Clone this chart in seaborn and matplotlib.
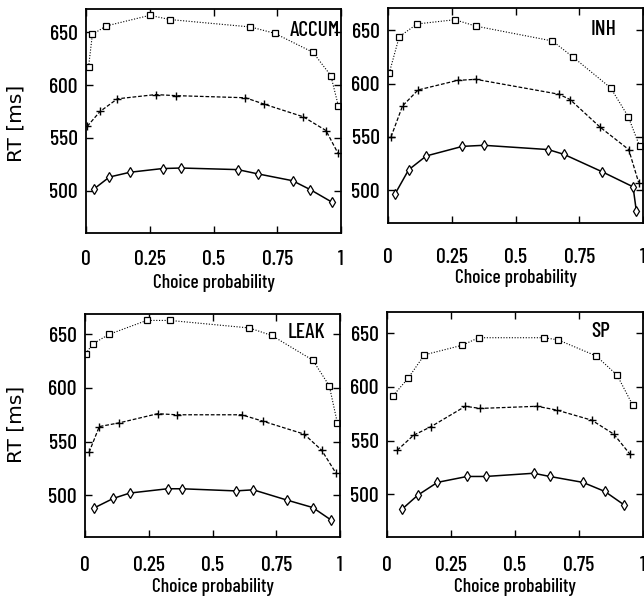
import matplotlib
matplotlib.use("Agg")
import matplotlib.pyplot as plt
import matplotlib.font_manager as fm
import pandas as pd
import seaborn as sns

# ---- data: choice probability vs. mean RT for three conditions per model ----
x_ticks = [0, 0.25, 0.5, 0.75, 1]
x_tick_labels = ["0", "0.25", "0.5", "0.75", "1"]
y_ticks = [500, 550, 600, 650]
model_names = ["ACCUM", "INH", "LEAK", "SP"]

accum_sq_p = [0.01, 0.025, 0.08, 0.25, 0.33, 0.645, 0.74, 0.89, 0.96, 0.99]
accum_sq_rt = [617, 648, 656, 666, 662, 655, 649, 631, 609, 580]
accum_pl_p = [0.005, 0.055, 0.123, 0.273, 0.353, 0.625, 0.698, 0.852, 0.941, 0.987]
accum_pl_rt = [561, 575, 587, 591, 590, 588, 582, 570, 557, 536]
accum_di_p = [0.033, 0.092, 0.173, 0.30, 0.373, 0.595, 0.673, 0.81, 0.88, 0.966]
accum_di_rt = [502, 513, 517.5, 521, 521.5, 520, 516, 509.5, 501, 489]

inh_sq_p = [0.005, 0.044, 0.114, 0.262, 0.344, 0.645, 0.725, 0.873, 0.942, 0.987]
inh_sq_rt = [610, 644, 656, 660, 654, 640, 625, 596, 569, 541]
inh_pl_p = [0.012, 0.057, 0.118, 0.273, 0.344, 0.67, 0.714, 0.832, 0.944, 0.983]
inh_pl_rt = [550, 579, 594, 603, 604, 590, 585, 559, 538, 507]
inh_di_p = [0.027, 0.081, 0.15, 0.292, 0.376, 0.628, 0.69, 0.841, 0.961, 0.974]
inh_di_rt = [496, 519, 532, 541, 542, 538, 533.5, 517, 503, 480]

leak_sq_p = [0.003, 0.03, 0.094, 0.242, 0.333, 0.644, 0.732, 0.893, 0.958, 0.99]
leak_sq_rt = [632, 641, 650, 663, 663, 656, 649, 626, 602, 567]
leak_pl_p = [0.016, 0.056, 0.135, 0.285, 0.36, 0.614, 0.698, 0.859, 0.928, 0.983]
leak_pl_rt = [540, 564, 567.5, 576, 575, 575, 569, 557, 542, 521]
leak_di_p = [0.035, 0.111, 0.176, 0.324, 0.379, 0.591, 0.66, 0.791, 0.893, 0.964]
leak_di_rt = [488, 497, 502, 506, 506, 504, 505, 495.5, 488.5, 477]

sp_sq_p = [0.024, 0.082, 0.146, 0.294, 0.358, 0.614, 0.668, 0.817, 0.899, 0.96]
sp_sq_rt = [592, 608, 630, 639, 646, 646, 644, 629, 611, 583]
sp_pl_p = [0.04, 0.104, 0.172, 0.306, 0.364, 0.586, 0.663, 0.80, 0.886, 0.95]
sp_pl_rt = [541, 555, 563, 582, 580, 582, 578.5, 569, 556, 537]
sp_di_p = [0.059, 0.12, 0.197, 0.313, 0.386, 0.573, 0.636, 0.765, 0.851, 0.926]
sp_di_rt = [486, 499, 511, 516.5, 516.5, 519.5, 516.5, 511, 502.5, 490]

panel_data = {
    "ACCUM": [(accum_sq_p, accum_sq_rt), (accum_pl_p, accum_pl_rt), (accum_di_p, accum_di_rt)],
    "INH": [(inh_sq_p, inh_sq_rt), (inh_pl_p, inh_pl_rt), (inh_di_p, inh_di_rt)],
    "LEAK": [(leak_sq_p, leak_sq_rt), (leak_pl_p, leak_pl_rt), (leak_di_p, leak_di_rt)],
    "SP": [(sp_sq_p, sp_sq_rt), (sp_pl_p, sp_pl_rt), (sp_di_p, sp_di_rt)],
}

# ---- styling ----
sns.set_theme(style="ticks")
installed = {f.name for f in fm.fontManager.ttflist}
narrow = next((n for n in ["Barlow Condensed", "Archivo Narrow", "Fira Sans Condensed"]
               if n in installed), "DejaVu Sans")
plt.rcParams["font.family"] = [narrow, "DejaVu Sans"]
plt.rcParams["font.weight"] = "medium"

W, H = 644, 605
fig = plt.figure(figsize=(W / 100, H / 100), dpi=100)
fig.patch.set_facecolor("white")


def rect(left, right, top, bottom):
    return [left / W, 1 - bottom / H, (right - left) / W, (bottom - top) / H]


# per panel: frame box (px), y-range, title anchor, x-tick pad, xlabel offset
layout = {
    "ACCUM": dict(box=(86, 341, 9, 233), ylim=(460, 672), title=(0.996, 0.902),
                  xpad=12, xlab=-0.223, ylab=(-0.275, 0.491)),
    "INH": dict(box=(388, 643, 8, 223), ylim=(469, 671), title=(0.898, 0.898),
                xpad=18, xlab=-0.256, ylab=None),
    "LEAK": dict(box=(85, 340, 314, 537), ylim=(461, 669), title=(0.941, 0.915),
                 xpad=14, xlab=-0.224, ylab=(-0.27, 0.507)),
    "SP": dict(box=(387, 643, 312, 537), ylim=(460, 670), title=(0.871, 0.913),
               xpad=14, xlab=-0.222, ylab=None),
}

series_styles = [
    dict(marker="s", linestyle=(0, (1, 1.5)), linewidth=0.8, markersize=4.8,
         markerfacecolor="white", markeredgecolor="black", markeredgewidth=0.9),
    dict(marker="+", linestyle=(0, (3, 1.5)), linewidth=0.9, markersize=6,
         markeredgecolor="black", markeredgewidth=1.0),
    dict(marker="d", linestyle="-", linewidth=1.1, markersize=5,
         markerfacecolor="white", markeredgecolor="black", markeredgewidth=0.9),
]

for name in model_names:
    cfg = layout[name]
    ax = fig.add_axes(rect(*cfg["box"]))
    ax.set_facecolor("white")
    for (p, rt), style in zip(panel_data[name], series_styles):
        df = pd.DataFrame({"p": p, "rt": rt})
        sns.lineplot(data=df, x="p", y="rt", ax=ax, color="black",
                     estimator=None, sort=False, **style)

    ax.set_xlim(0, 1)
    ax.set_ylim(*cfg["ylim"])
    ax.set_xticks(x_ticks)
    ax.set_xticklabels(x_tick_labels)
    ax.set_yticks(y_ticks)
    ax.tick_params(direction="in", length=5, width=1.0, top=True, right=True,
                   labelsize=15.5, colors="black")
    ax.tick_params(axis="x", pad=cfg["xpad"])
    ax.tick_params(axis="y", pad=6)
    for s in ax.spines.values():
        s.set_linewidth(1.3)
        s.set_color("black")

    ax.set_xlabel("Choice probability", fontsize=14, color="black", weight="medium")
    ax.xaxis.set_label_coords(0.5, cfg["xlab"])
    ax.xaxis.label.set_va("center")
    if cfg["ylab"] is not None:
        ax.set_ylabel("RT [ms]", fontsize=14.5, color="black",
                      family=["DejaVu Sans"], weight="normal")
        ax.yaxis.set_label_coords(*cfg["ylab"])
        ax.yaxis.label.set_va("center")
    else:
        ax.set_ylabel("")

    ax.text(cfg["title"][0], cfg["title"][1], name, transform=ax.transAxes,
            ha="right", va="center", fontsize=15.5, color="black")

fig.savefig("out.png", dpi=100, facecolor="white")
